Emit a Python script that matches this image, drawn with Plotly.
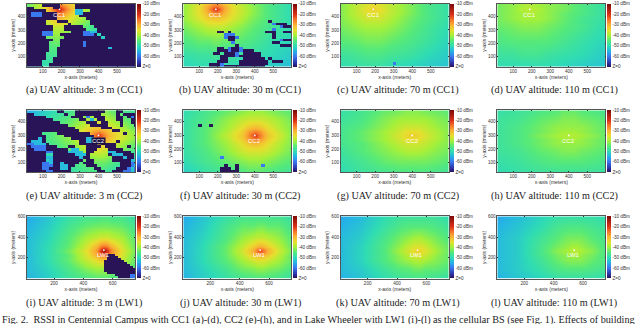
import plotly.graph_objects as go

W, H = 640, 324

# RSSI grid nodes, one set per base station site
X_CC1 = [14, 100, 150, 175, 190, 205, 230, 280, 380, 480, 597]
Y_CC1 = [25, 120, 220, 320, 390, 425, 455, 480, 495]
X_CC2 = [14, 130, 250, 330, 370, 400, 430, 470, 550, 597]
Y_CC2 = [30, 110, 190, 240, 270, 300, 330, 360, 420, 485]
X_LW1 = [16, 150, 300, 420, 490, 520, 540, 560, 590, 660, 752]
Y_LW1 = [0, 100, 180, 230, 255, 270, 285, 310, 400, 500, 600]

# dBm, bottom row first
Z_A = [
    [-54, -50, -49, -50, -51, -52, -53, -54, -56, -58, -60],
    [-52, -48, -47, -47, -48, -49, -50, -52, -54, -56, -58],
    [-50, -46, -44, -43, -44, -45, -46, -48, -51, -54, -56],
    [-46, -42, -38, -38, -38, -38, -39, -42, -48, -52, -55],
    [-44, -38, -33, -30, -30, -32, -34, -38, -44, -50, -54],
    [-44, -36, -30, -25, -24, -26, -30, -36, -43, -50, -54],
    [-44, -36, -27, -20, -18, -21, -27, -35, -43, -50, -54],
    [-44, -36, -29, -25, -24, -25, -29, -35, -43, -50, -54],
    [-44, -37, -31, -28, -28, -28, -31, -36, -44, -50, -54],
]
Z_B = [
    [-51, -50, -50, -50, -50, -50, -50, -50, -51, -52, -54],
    [-49, -48, -48, -47, -47, -47, -48, -48, -49, -50, -52],
    [-46, -44, -44, -43, -43, -43, -44, -44, -46, -49, -51],
    [-43, -40, -38, -38, -38, -38, -38, -40, -44, -47, -50],
    [-41, -36, -33, -32, -32, -32, -33, -36, -42, -46, -50],
    [-41, -35, -30, -27, -26, -27, -30, -35, -41, -46, -50],
    [-41, -35, -28, -22, -20, -22, -28, -35, -41, -46, -50],
    [-41, -35, -29, -26, -25, -26, -29, -35, -41, -46, -50],
    [-41, -36, -31, -28, -28, -28, -31, -36, -42, -46, -50],
]
Z_C = [
    [-50, -49, -49, -49, -49, -49, -49, -50, -51, -52, -53],
    [-48, -47, -46, -46, -46, -46, -46, -47, -48, -50, -52],
    [-45, -44, -43, -43, -43, -43, -43, -44, -46, -48, -51],
    [-43, -41, -40, -40, -40, -40, -40, -41, -44, -47, -50],
    [-42, -39, -37, -37, -37, -37, -37, -39, -43, -46, -49],
    [-42, -38, -36, -35, -35, -35, -36, -38, -42, -46, -49],
    [-42, -38, -35, -34, -33, -34, -35, -38, -42, -46, -49],
    [-42, -38, -36, -35, -34, -35, -36, -38, -42, -46, -49],
    [-42, -38, -36, -35, -35, -35, -36, -38, -42, -46, -49],
]
Z_D = [
    [-50, -50, -50, -50, -50, -50, -50, -50, -51, -52, -53],
    [-48, -48, -47, -47, -47, -47, -47, -48, -49, -50, -52],
    [-46, -45, -45, -45, -45, -45, -45, -45, -47, -49, -51],
    [-44, -43, -42, -42, -42, -42, -42, -43, -45, -47, -50],
    [-43, -41, -40, -40, -40, -40, -40, -41, -44, -47, -49],
    [-43, -41, -40, -39, -39, -39, -40, -41, -44, -46, -49],
    [-43, -41, -39, -39, -38, -39, -39, -41, -43, -46, -49],
    [-43, -41, -40, -39, -39, -39, -40, -41, -43, -46, -49],
    [-43, -41, -40, -39, -39, -39, -40, -41, -43, -46, -49],
]
Z_E = [
    [-58, -54, -49, -47, -47, -47, -48, -49, -52, -54],
    [-56, -52, -47, -44, -43, -43, -43, -45, -49, -52],
    [-54, -49, -44, -39, -37, -36, -37, -39, -44, -47],
    [-52, -47, -42, -36, -33, -32, -33, -36, -41, -44],
    [-51, -46, -41, -33, -30, -28, -29, -33, -39, -42],
    [-50, -46, -40, -32, -26, -20, -26, -32, -38, -41],
    [-51, -46, -41, -33, -29, -27, -29, -33, -39, -42],
    [-52, -47, -42, -36, -33, -32, -33, -36, -41, -44],
    [-54, -49, -44, -40, -38, -38, -38, -40, -44, -46],
    [-56, -51, -47, -43, -42, -42, -42, -44, -47, -48],
]
Z_F = [
    [-52, -49, -47, -46, -45, -45, -45, -46, -47, -48],
    [-50, -47, -44, -42, -41, -41, -41, -42, -44, -45],
    [-49, -46, -41, -37, -36, -36, -36, -37, -41, -43],
    [-49, -45, -40, -35, -32, -31, -32, -35, -40, -42],
    [-49, -45, -39, -33, -28, -26, -28, -33, -39, -42],
    [-49, -45, -38, -32, -26, -20, -26, -32, -38, -42],
    [-49, -45, -39, -33, -28, -26, -28, -33, -39, -42],
    [-49, -45, -40, -35, -32, -31, -32, -35, -40, -42],
    [-49, -46, -41, -38, -37, -37, -37, -38, -41, -43],
    [-50, -47, -44, -42, -41, -41, -41, -42, -44, -45],
]
Z_G = [
    [-50, -48, -47, -46, -46, -46, -46, -46, -47, -48],
    [-49, -47, -44, -43, -43, -43, -43, -43, -44, -45],
    [-48, -45, -42, -40, -39, -39, -39, -40, -42, -43],
    [-47, -45, -41, -38, -37, -37, -37, -38, -41, -42],
    [-47, -44, -40, -37, -35, -35, -35, -37, -40, -42],
    [-47, -44, -40, -36, -34, -33, -34, -36, -40, -42],
    [-47, -44, -40, -37, -35, -35, -35, -37, -40, -42],
    [-47, -45, -41, -38, -37, -37, -37, -38, -41, -42],
    [-48, -46, -42, -40, -40, -40, -40, -40, -42, -43],
    [-49, -47, -44, -43, -42, -42, -42, -43, -44, -45],
]
Z_H = [
    [-50, -49, -48, -48, -48, -48, -48, -48, -48, -49],
    [-49, -48, -46, -45, -45, -45, -45, -45, -46, -47],
    [-48, -47, -44, -43, -42, -42, -42, -43, -44, -45],
    [-48, -46, -43, -41, -41, -41, -41, -41, -43, -44],
    [-48, -46, -43, -41, -40, -40, -40, -41, -43, -44],
    [-48, -46, -42, -40, -39, -39, -39, -40, -42, -44],
    [-48, -46, -43, -41, -40, -40, -40, -41, -43, -44],
    [-48, -46, -43, -41, -41, -41, -41, -41, -43, -44],
    [-48, -47, -44, -43, -42, -42, -42, -43, -44, -45],
    [-49, -48, -46, -45, -44, -44, -44, -45, -46, -47],
]
Z_I = [
    [-55, -52, -48, -46, -45, -45, -45, -45, -46, -47, -49],
    [-54, -51, -46, -42, -40, -40, -40, -40, -41, -42, -46],
    [-54, -50, -44, -38, -35, -33, -33, -33, -34, -38, -44],
    [-54, -50, -44, -36, -29, -25, -24, -25, -28, -36, -44],
    [-54, -50, -43, -36, -28, -21, -17, -21, -27, -36, -43],
    [-54, -50, -43, -35, -28, -19, -14, -19, -27, -35, -43],
    [-54, -50, -43, -36, -28, -21, -17, -21, -27, -36, -43],
    [-54, -50, -44, -37, -30, -26, -25, -26, -30, -37, -44],
    [-54, -51, -45, -40, -38, -37, -37, -37, -38, -40, -45],
    [-55, -52, -47, -44, -43, -43, -43, -43, -43, -44, -47],
    [-56, -53, -49, -47, -47, -46, -46, -46, -47, -47, -49],
]
Z_J = [
    [-55, -52, -49, -47, -46, -46, -46, -46, -46, -47, -49],
    [-54, -51, -47, -43, -42, -41, -41, -41, -42, -43, -46],
    [-54, -50, -45, -40, -37, -36, -36, -36, -37, -40, -44],
    [-54, -50, -44, -38, -32, -30, -29, -30, -32, -38, -44],
    [-54, -50, -44, -37, -30, -26, -24, -26, -30, -37, -43],
    [-54, -50, -44, -37, -30, -25, -22, -25, -30, -37, -43],
    [-54, -50, -44, -37, -30, -26, -24, -26, -30, -37, -43],
    [-54, -50, -44, -38, -33, -31, -30, -31, -33, -38, -44],
    [-54, -51, -46, -41, -39, -38, -38, -38, -39, -41, -45],
    [-55, -52, -47, -44, -44, -43, -43, -43, -44, -44, -47],
    [-56, -53, -49, -47, -47, -47, -47, -47, -47, -47, -49],
]
Z_K = [
    [-55, -53, -50, -48, -47, -47, -47, -47, -47, -48, -49],
    [-54, -52, -48, -45, -44, -43, -43, -43, -44, -44, -46],
    [-54, -51, -46, -42, -40, -39, -39, -39, -40, -42, -44],
    [-54, -51, -46, -41, -37, -36, -36, -36, -37, -41, -44],
    [-54, -51, -46, -40, -36, -35, -34, -35, -36, -40, -44],
    [-54, -51, -46, -40, -36, -34, -33, -34, -36, -40, -44],
    [-54, -51, -46, -40, -36, -35, -34, -35, -36, -40, -44],
    [-54, -51, -46, -41, -37, -36, -36, -36, -37, -41, -44],
    [-54, -52, -47, -43, -41, -40, -40, -40, -41, -43, -46],
    [-55, -53, -49, -46, -45, -45, -45, -45, -45, -46, -48],
    [-56, -54, -50, -48, -48, -48, -48, -48, -48, -48, -50],
]
Z_L = [
    [-55, -53, -51, -49, -49, -49, -49, -49, -49, -49, -50],
    [-54, -52, -49, -46, -45, -45, -45, -45, -45, -46, -47],
    [-54, -52, -48, -44, -42, -42, -42, -42, -42, -44, -46],
    [-54, -52, -47, -43, -41, -40, -40, -40, -41, -43, -46],
    [-54, -52, -47, -42, -40, -39, -39, -39, -40, -42, -46],
    [-54, -52, -47, -42, -40, -39, -38, -39, -40, -42, -46],
    [-54, -52, -47, -42, -40, -39, -39, -39, -40, -42, -46],
    [-54, -52, -47, -43, -41, -40, -40, -40, -41, -43, -46],
    [-54, -52, -48, -45, -43, -43, -43, -43, -43, -45, -47],
    [-55, -53, -50, -47, -46, -46, -46, -46, -46, -47, -48],
    [-56, -54, -51, -49, -49, -49, -49, -49, -49, -49, -50],
]

# building shadow cells, top row first: # no signal, b blue, c cyan, . see field
MASK_A = [
    "....#####....#################",
    "##.....##....#################",
    "#####........cc..#############",
    "#bbb####.....cc###############",
    "#bbb####......################",
    "########........##############",
    "#####...###......#############",
    "#####......#.....#############",
    "#######...#####...############",
    "#######...######...###########",
    "####bbb.....###bbcc###########",
    "####bbb..######bbb#.##########",
    "#####.....##########.#########",
    "#######..#####################",
    "######...######b##############",
    "######...######b##############",
    "######..##############c#######",
    "######..######################",
    "#####...######################",
    "#####...######################",
    "#####..#######################",
    "####...#######################",
    "####..########################",
    "####..########################",
]
MASK_B = [
    "", "", "", "", "", "",
    "." * 23 + "#",
    "." * 24 + "b###",
    "." * 26 + "b###",
    "." * 24 + "b",
    "." * 9 + "##.#" + "." * 9 + "###..###",
    "." * 11 + "bbb" + "." * 10 + "#",
    "." * 11 + "b##b" + "." * 9 + "#",
    "." * 12 + "##" + "." * 12 + "b###",
    "." * 13 + "b" + "." * 10 + "##",
    "." * 14 + "#" + "." * 11 + "###",
    "." * 9 + "##.b##b",
    "." * 9 + "###b##b###",
    "." * 8 + "##.###b.#####",
    "." * 10 + "####b######",
    "." * 10 + "##....######.#",
    "." * 9 + "###...########.###",
    "." * 7 + "###b....########",
    "." * 7 + "###b###########",
]
MASK_C = [""] * 22 + ["." * 14 + "b"]
MASK_E = [
    "........##...########...##....",
    "##........#..#######....#.####",
    "#####.......###.b.###...##.#b#",
    "#######.......##.c.##...##..##",
    "#########.......###.##...#..##",
    "###########......#####...#...#",
    "#############.......###.......",
    "##############.........##.....",
    "####....#########.........#...",
    "#####.....########............",
    "###c#.......####cc............",
    "#ccc#.........##ccc#....#.....",
    "bbccc#........#####.####......",
    "#bbbb###...##...####.###...#..",
    "##bbb######.cc..###...####....",
    "#####bb####cccc.##....cc####..",
    "#####..######ccc#.....#ccc###.",
    "#####cc#######c##......###c##.",
    "#####.c########.##.....#####c.",
    "####bbc##c####.###.......###bb",
    "####bbb##cc##...###......###bc",
    "####bb###cc#......##....###b.b",
    "#####bb#####.......##..###bb.b",
]
MASK_F = [
    "", "", "", "", "",
    "." * 4 + "#..#",
    "", "", "", "", "", "", "", "", "", "", "",
    "." * 10 + "b",
    "", "",
    "." * 11 + "#..#" + "." * 6 + "b",
    "." * 10 + "###.#",
    "." * 10 + "#####",
]
MASK_I = [""] * 18 + [
    "." * 27 + "###",
    "." * 27 + "####",
    "." * 27 + "#####",
    "." * 26 + "#######",
    "." * 26 + "########",
    "." * 26 + "#########",
    "." * 26 + "##########",
    "." * 26 + "###########",
    "." * 26 + "###########",
    "." * 27 + "##########",
    "." * 30 + "#####bb",
    "." * 31 + "####bb",
]
MASK_CODES = {"#": -70, "b": -60, "c": -54}

CAPTIONS = [
    "(a) UAV altitude: 3 m (CC1)", "(b) UAV altitude: 30 m (CC1)",
    "(c) UAV altitude: 70 m (CC1)", "(d) UAV altitude: 110 m (CC1)",
    "(e) UAV altitude: 3 m (CC2)", "(f) UAV altitude: 30 m (CC2)",
    "(g) UAV altitude: 70 m (CC2)", "(h) UAV altitude: 110 m (CC2)",
    "(i) UAV altitude: 3 m (LW1)", "(j) UAV altitude: 30 m (LW1)",
    "(k) UAV altitude: 70 m (LW1)", "(l) UAV altitude: 110 m (LW1)",
]
FIG_CAPTION = ("Fig. 2.  RSSI in Centennial Campus with CC1 (a)-(d), CC2 (e)-(h), and in Lake Wheeler "
               "with LW1 (i)-(l) as the cellular BS (see Fig. 1). Effects of building")
CBAR_VALS = [-10, -20, -30, -40, -50, -60, -70]
CBAR_TEXT = ["-10 dBm", "-20 dBm", "-30 dBm", "-40 dBm", "-50 dBm", "-60 dBm", "Z=0"]

COLORS = [
    [0.0, "#2a1458"], [0.05, "#2b2a9c"], [0.167, "#3a78f0"], [0.25, "#25b4e6"],
    [0.333, "#2fdcb4"], [0.42, "#58ea78"], [0.5, "#a5f03a"], [0.58, "#e6e02e"],
    [0.667, "#f9b234"], [0.75, "#f5742a"], [0.83, "#dc3218"], [1.0, "#7a0a0a"],
]

COL_LEFT = [27, 183.3, 340.7, 497.3]
PLOT_W = 108
ROWS = [
    dict(top=2, bottom=65, caption=89, xr=[14, 597], yr=[25, 495], xt=[100, 200, 300, 400, 500],
         yt=[100, 200, 300, 400], xg=X_CC1, yg=Y_CC1, bs="CC1", mx=(190, 455), lab=(190, 412),
         cols=list(range(24, 624, 20)), mrows=[485 - 20 * r for r in range(24)], masks=[MASK_A, MASK_B, MASK_C, None],
         z=[Z_A, Z_B, Z_C, Z_D]),
    dict(top=109, bottom=171, caption=195, xr=[14, 597], yr=[30, 485], xt=[100, 200, 300, 400, 500],
         yt=[100, 200, 300, 400], xg=X_CC2, yg=Y_CC2, bs="CC2", mx=(400, 300), lab=(400, 262),
         cols=list(range(24, 624, 20)), mrows=[475 - 20 * r for r in range(23)], masks=[MASK_E, MASK_F, None, None],
         z=[Z_E, Z_F, Z_G, Z_H]),
    dict(top=215.7, bottom=278.3, caption=303, xr=[16, 752], yr=[0, 600], xt=[200, 400, 600],
         yt=[200, 400, 600], xg=X_LW1, yg=Y_LW1, bs="LW1", mx=(540, 275), lab=(535, 230),
         cols=list(range(26, 766, 20)), mrows=[590 - 20 * r for r in range(30)], masks=[MASK_I, None, None, None],
         z=[Z_I, Z_J, Z_K, Z_L]),
]

TICK_FONT = dict(family="Liberation Sans", size=4.6, color="#333333")
TITLE_FONT = dict(family="Liberation Sans", size=5, color="#333333")

fig = go.Figure()
annotations = []
n = 0
for row in ROWS:
    for c, left in enumerate(COL_LEFT):
        n += 1
        sfx = "" if n == 1 else str(n)
        xname, yname = f"x{sfx}", f"y{sfx}"
        fig.add_trace(go.Heatmap(
            x=row["xg"], y=row["yg"], z=row["z"][c], xaxis=xname, yaxis=yname,
            zmin=-70, zmax=-10, colorscale=COLORS, zsmooth="best", hoverinfo="skip",
            colorbar=dict(
                x=(left + PLOT_W + 1.5) / W, xanchor="left", xpad=0, ypad=0,
                y=1 - (row["top"] + row["bottom"]) / 2 / H, yanchor="middle",
                len=(row["bottom"] - row["top"]) / H, thickness=3.5,
                outlinewidth=0, borderwidth=0, ticks="", ticklen=0,
                tickvals=CBAR_VALS, ticktext=CBAR_TEXT, tickfont=TICK_FONT,
            ),
        ))
        mask = row["masks"][c]
        if mask:
            width = len(row["cols"])
            cells = [[MASK_CODES.get(ch) for ch in line.ljust(width, ".")] for line in mask]
            fig.add_trace(go.Heatmap(
                x=row["cols"], y=row["mrows"][:len(cells)], z=cells, xaxis=xname, yaxis=yname,
                zmin=-70, zmax=-10, colorscale=COLORS, showscale=False, hoverinfo="skip",
            ))
        fig.add_trace(go.Scatter(
            x=[row["mx"][0]], y=[row["mx"][1]], xaxis=xname, yaxis=yname, mode="markers",
            marker=dict(symbol="circle", size=1.8, color="white"), showlegend=False, hoverinfo="skip",
        ))
        fig.update_layout({
            f"xaxis{sfx}": dict(
                domain=[left / W, (left + PLOT_W) / W], anchor=yname, range=row["xr"],
                tickvals=row["xt"], tickfont=TICK_FONT, ticks="inside", ticklen=1, tickwidth=0.5,
                tickcolor="#333333", showgrid=False, zeroline=False, showline=True, linewidth=0.5,
                linecolor="#555555", mirror="ticks",
                title=dict(text="x-axis (meters)", font=TITLE_FONT, standoff=2),
            ),
            f"yaxis{sfx}": dict(
                domain=[1 - row["bottom"] / H, 1 - row["top"] / H], anchor=xname, range=row["yr"],
                tickvals=row["yt"], tickfont=TICK_FONT, ticks="inside", ticklen=1, tickwidth=0.5,
                tickcolor="#333333", showgrid=False, zeroline=False, showline=True, linewidth=0.5,
                linecolor="#555555", mirror="ticks",
                title=dict(text="y-axis (meters)", font=TITLE_FONT, standoff=1),
            ),
        })
        annotations.append(dict(
            x=row["lab"][0], y=row["lab"][1], xref=xname, yref=yname, text=row["bs"], showarrow=False,
            font=dict(family="Liberation Sans", size=6, color="white"),
            bgcolor="#1c1040" if n == 5 else None, borderpad=0,
        ))
        annotations.append(dict(
            x=(left + PLOT_W / 2 + 3) / W, y=1 - row["caption"] / H, xref="paper", yref="paper",
            text=CAPTIONS[n - 1], showarrow=False, xanchor="center", yanchor="middle",
            font=dict(family="Liberation Serif", size=10.2, color="#222222"),
        ))

annotations.append(dict(
    x=0, y=1 - 319.5 / H, xref="paper", yref="paper", xanchor="left", yanchor="middle", text=FIG_CAPTION,
    showarrow=False, font=dict(family="Liberation Serif", size=10.2, color="#222222"),
))

fig.update_layout(
    width=W, height=H, margin=dict(l=0, r=0, t=0, b=0), showlegend=False,
    plot_bgcolor="white", paper_bgcolor="white", annotations=annotations,
)
fig.write_html("out.html", config=dict(displayModeBar=False),
               post_script="document.body.style.margin='0';document.body.style.overflow='hidden';")
